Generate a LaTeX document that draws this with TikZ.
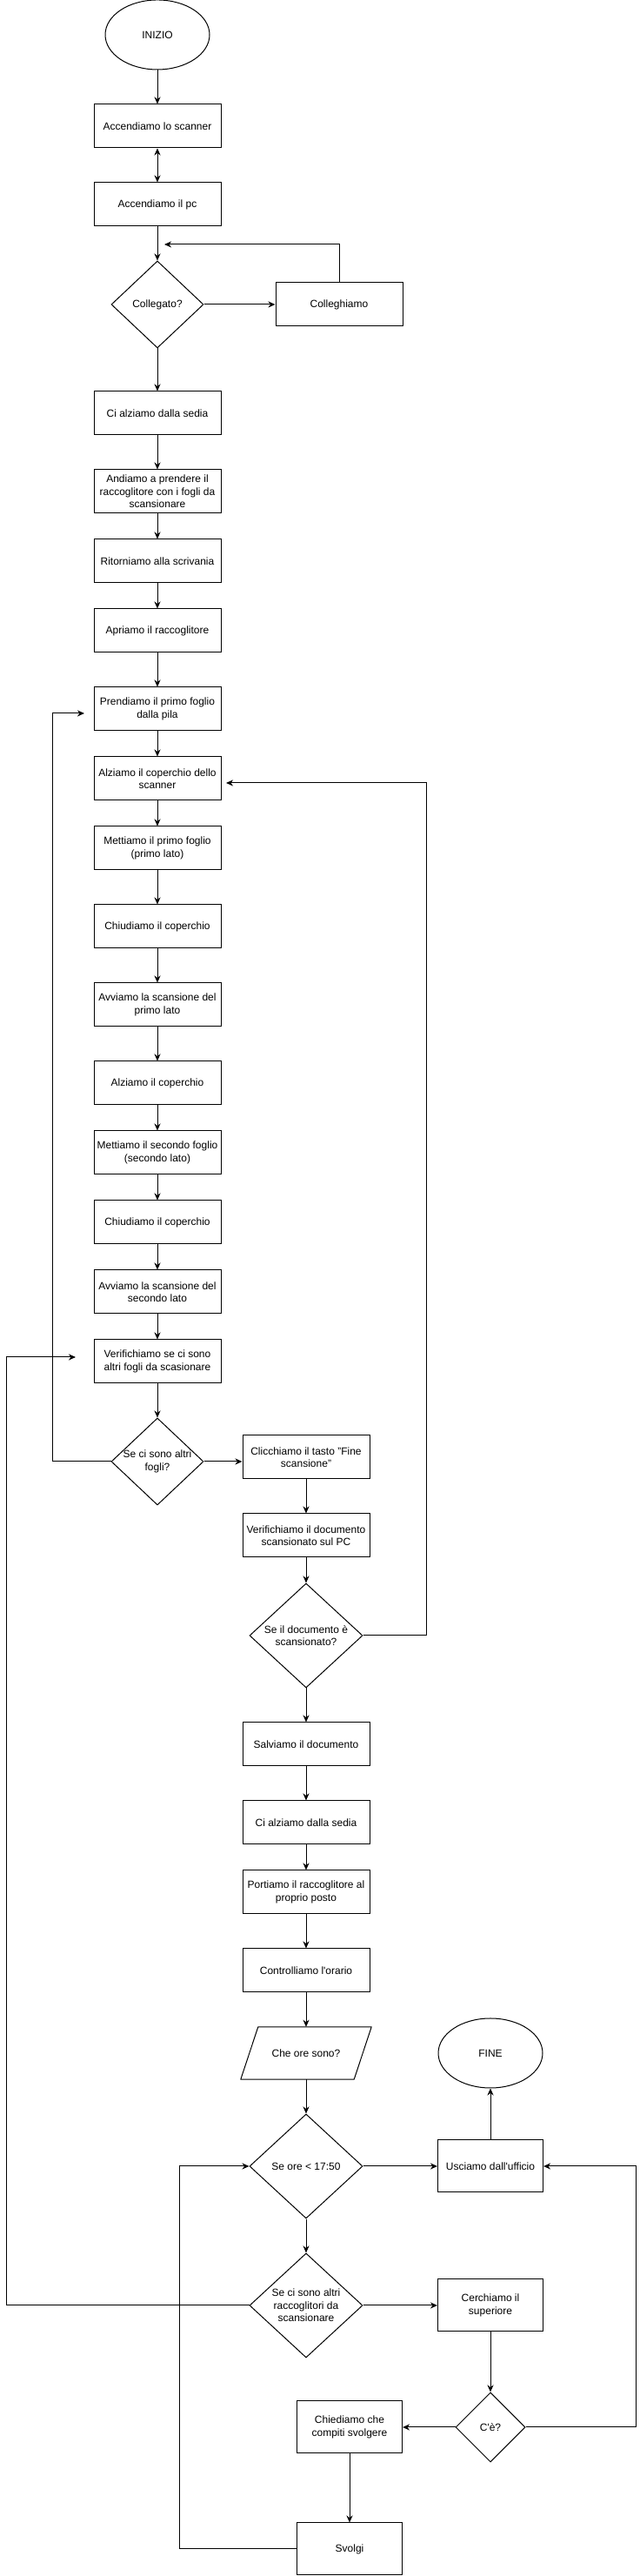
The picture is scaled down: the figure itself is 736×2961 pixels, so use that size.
\documentclass[tikz,border=0pt]{standalone}
\usepackage{fontspec}
\setmainfont{Liberation Sans}
\usetikzlibrary{shapes.geometric,arrows.meta}

\begin{document}
\begin{tikzpicture}[x=1pt,y=1pt,
  >={Stealth[length=8pt,width=7pt,inset=2.5pt]},
  every node/.style={font=\fontsize{12}{14.4}\selectfont, align=center},
  stepbox/.style={draw=drawColor, line width=1pt, minimum width=146pt, minimum height=50pt, inner sep=2pt},
  smallbox/.style={draw=drawColor, line width=1pt, minimum width=121pt, minimum height=60pt, inner sep=2pt},
  terminal/.style={ellipse, draw=drawColor, line width=1pt, minimum width=120pt, minimum height=80pt, inner sep=0pt},
  decision/.style 2 args={diamond, draw=drawColor, line width=1pt, minimum width=#1, minimum height=#2, inner sep=0pt},
  lbl/.style={align=center},
  arr/.style={draw=drawColor, line width=1pt, ->}]
\definecolor{drawColor}{RGB}{0,0,0}
\definecolor{fillColor}{RGB}{255,255,255}
\path[use as bounding box,fill=fillColor] (0,0) rectangle (736,2961);

\node[terminal] (inizio) at (181,2921) {INIZIO};

\node[stepbox] (scanner) at (181,2816) {Accendiamo lo scanner};

\node[stepbox] (pc) at (181,2726) {Accendiamo il pc};

\node[decision={106pt}{100pt}, label={[lbl]center:Collegato?}] (collegato) at (181,2611) {};

\node[stepbox] (colleghiamo) at (390,2611) {Colleghiamo};

\node[stepbox] (alzoA) at (181,2486) {Ci alziamo dalla sedia};

\node[stepbox] (prendo) at (181,2396) {Andiamo a prendere il\\raccoglitore con i fogli da\\scansionare};

\node[stepbox] (torno) at (181,2316) {Ritorniamo alla scrivania};

\node[stepbox] (apro) at (181,2236) {Apriamo il raccoglitore};

\node[stepbox] (foglio) at (181,2146) {Prendiamo il primo foglio\\dalla pila};

\node[stepbox] (coperchioA) at (181,2066) {Alziamo il coperchio dello\\scanner};

\node[stepbox] (latoA) at (181,1986) {Mettiamo il primo foglio\\(primo lato)};

\node[stepbox] (chiudoA) at (181,1896) {Chiudiamo il coperchio};

\node[stepbox] (scanA) at (181,1806) {Avviamo la scansione del\\primo lato};

\node[stepbox] (coperchioB) at (181,1716) {Alziamo il coperchio};

\node[stepbox] (latoB) at (181,1636) {Mettiamo il secondo foglio\\(secondo lato)};

\node[stepbox] (chiudoB) at (181,1556) {Chiudiamo il coperchio};

\node[stepbox] (scanB) at (181,1476) {Avviamo la scansione del\\secondo lato};

\node[stepbox] (verifico) at (181,1396) {Verifichiamo se ci sono\\altri fogli da scasionare};

\node[decision={106pt}{100pt}, label={[lbl]center:Se ci sono altri\\fogli?}] (fogli) at (181,1281) {};

\node[stepbox] (finescan) at (352,1286) {Clicchiamo il tasto "Fine\\scansione"};

\node[stepbox] (controllo) at (352,1196) {Verifichiamo il documento\\scansionato sul PC};

\node[decision={130pt}{120pt}, label={[lbl]center:Se il documento è\\scansionato?}] (documento) at (352,1081) {};

\node[stepbox] (salvo) at (352,956) {Salviamo il documento};

\node[stepbox] (alzoB) at (352,866) {Ci alziamo dalla sedia};

\node[stepbox] (riporto) at (352,786) {Portiamo il raccoglitore al\\proprio posto};

\node[stepbox] (orologio) at (352,696) {Controlliamo l\textquotesingle orario};

\node[minimum width=130pt, minimum height=60pt, inner sep=0pt] (orario) at (352,601) {Che ore sono?};

\path[draw=drawColor,line width=1pt,line join=round] ([xshift=10pt]orario.north west) --
	([xshift=10pt]orario.north east) -- ([xshift=-10pt]orario.south east) --
	([xshift=-10pt]orario.south west) -- cycle;

\node[decision={130pt}{120pt}, label={[lbl]center:{Se ore < 17:50}}] (ore) at (352,471) {};

\node[smallbox] (esco) at (564,471) {Usciamo dall\textquotesingle ufficio};

\node[terminal] (fine) at (564,601) {FINE};

\node[decision={130pt}{120pt}, label={[lbl]center:Se ci sono altri\\raccoglitori da\\scansionare}] (raccolte) at (352,311) {};

\node[smallbox] (cerco) at (564,311) {Cerchiamo il\\superiore};

\node[decision={80pt}{80pt}, label={[lbl]center:C\textquotesingle è?}] (ce) at (564,171) {};

\node[smallbox] (chiedo) at (402,171) {Chiediamo che\\compiti svolgere};

\node[smallbox] (svolgo) at (402,31) {Svolgi};

\coordinate (retA) at (189,2680);
\coordinate (loopA) at (97,2141);
\coordinate (retB) at (260,2061);
\coordinate (loopB) at (87,1401);

\draw[arr] (inizio) -- (scanner);
\draw[arr,<->] (scanner) -- (pc);
\draw[arr] (pc) -- (collegato);
\draw[arr] (collegato) -- (colleghiamo);
\draw[arr] (colleghiamo.north) |- (retA);
\draw[arr] (collegato) -- (alzoA);
\draw[arr] (alzoA) -- (prendo);
\draw[arr] (prendo) -- (torno);
\draw[arr] (torno) -- (apro);
\draw[arr] (apro) -- (foglio);
\draw[arr] (foglio) -- (coperchioA);
\draw[arr] (coperchioA) -- (latoA);
\draw[arr] (latoA) -- (chiudoA);
\draw[arr] (chiudoA) -- (scanA);
\draw[arr] (scanA) -- (coperchioB);
\draw[arr] (coperchioB) -- (latoB);
\draw[arr] (latoB) -- (chiudoB);
\draw[arr] (chiudoB) -- (scanB);
\draw[arr] (scanB) -- (verifico);
\draw[arr] (verifico) -- (fogli);
\draw[arr] (fogli.west) -| ([xshift=-37pt]loopA) -- (loopA);
\draw[arr] (fogli.east) -- (fogli.east -| finescan.west);
\draw[arr] (finescan) -- (controllo);
\draw[arr] (controllo) -- (documento);
\draw[arr] (documento.east) -| ([xshift=230pt]retB) -- (retB);
\draw[arr] (documento) -- (salvo);
\draw[arr] (salvo) -- (alzoB);
\draw[arr] (alzoB) -- (riporto);
\draw[arr] (riporto) -- (orologio);
\draw[arr] (orologio) -- (orario);
\draw[arr] (orario) -- (ore);
\draw[arr] (ore) -- (esco);
\draw[arr] (esco) -- (fine);
\draw[arr] (ore) -- (raccolte);
\draw[arr] (raccolte.west) -| ([xshift=-79.5pt]loopB) -- (loopB);
\draw[arr] (raccolte) -- (cerco);
\draw[arr] (cerco) -- (ce);
\draw[arr] (ce.east) -| ([xshift=106.5pt]esco.east) -- (esco.east);
\draw[arr] (ce) -- (chiedo);
\draw[arr] (chiedo) -- (svolgo);
\draw[arr] (svolgo.west) -| ([xshift=-80pt]ore.west) -- (ore.west);
\end{tikzpicture}
\end{document}
